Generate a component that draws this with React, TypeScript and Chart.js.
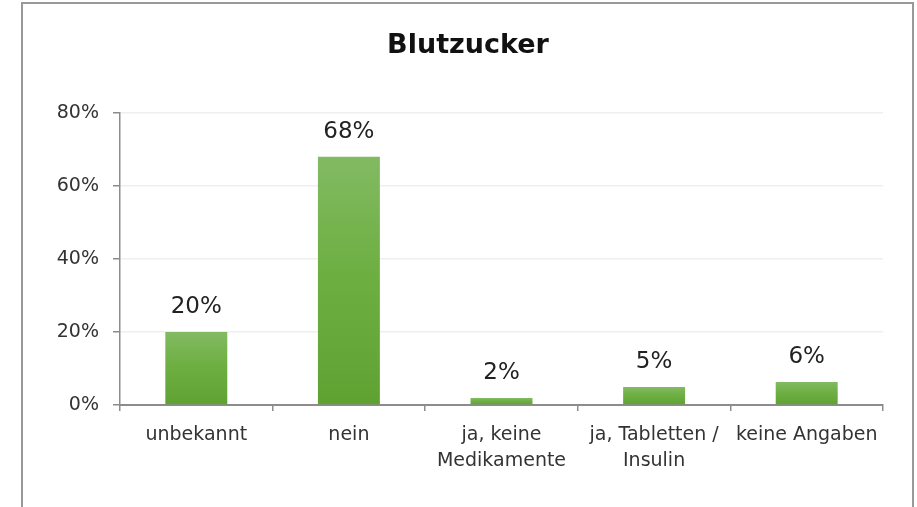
import React, { useEffect, useRef } from "react";
import { Chart, registerables } from "chart.js";

Chart.register(...registerables);

const title = "Blutzucker";
const categories: (string | string[])[] = [
  "unbekannt",
  "nein",
  ["ja, keine", "Medikamente"],
  ["ja, Tabletten /", "Insulin"],
  "keine Angaben",
];
const values = [20, 68, 1.9, 4.9, 6.3];
const yTicks = [0, 20, 40, 60, 80];

const FONT = "'DejaVu Sans', sans-serif";

export default function App() {
  const ref = useRef<HTMLCanvasElement | null>(null);

  useEffect(() => {
    document.body.style.margin = "0";
    const canvas = ref.current!;
    const labelPlugin = {
      id: "extras",
      afterDatasetsDraw(chart: any) {
        const ctx = chart.ctx;
        const meta = chart.getDatasetMeta(0);
        ctx.save();
        ctx.fillStyle = "#222222";
        ctx.font = `23px ${FONT}`;
        ctx.textAlign = "center";
        ctx.textBaseline = "alphabetic";
        meta.data.forEach((bar: any, i: number) => {
          ctx.fillText(Math.round(values[i]) + "%", bar.x, bar.y - 19);
        });
        ctx.font = `bold 27px ${FONT}`;
        ctx.fillStyle = "#111111";
        ctx.textBaseline = "alphabetic";
        ctx.fillText(title, 468, 53);
        ctx.restore();
      },
    };

    const chart = new Chart(canvas, {
      type: "bar",
      data: {
        labels: categories,
        datasets: [
          {
            data: values,
            barPercentage: 0.406,
            categoryPercentage: 1,
            backgroundColor: (c: any) => {
              const ch = c.chart;
              const area = ch.chartArea;
              if (!area || c.type !== "data") return "#6aa83f";
              const ys = ch.scales.y;
              const top = ys.getPixelForValue(values[c.dataIndex]);
              const bottom = ys.getPixelForValue(0);
              const g = ch.ctx.createLinearGradient(0, top, 0, bottom);
              g.addColorStop(0, "#82ba62");
              g.addColorStop(0.5, "#6cae40");
              g.addColorStop(1, "#60a232");
              return g;
            },
          },
        ],
      },
      options: {
        responsive: false,
        animation: false,
        layout: { padding: { top: 113, right: 34, left: 0, bottom: 0 } },
        plugins: {
          legend: { display: false },
          title: { display: false },
          tooltip: { enabled: false },
        },
        scales: {
          x: {
            afterFit: (s: any) => {
              s.height = 102;
            },
            border: { color: "#8c8c8c", width: 2 },
            grid: {
              offset: true,
              drawOnChartArea: false,
              drawTicks: true,
              tickLength: 6,
              tickColor: "#8c8c8c",
              lineWidth: 1.5,
            },
            ticks: {
              color: "#333333",
              font: { family: FONT, size: 19, lineHeight: 1.32 },
              padding: 12,
              maxRotation: 0,
              autoSkip: false,
            },
          },
          y: {
            min: 0,
            max: 80,
            afterFit: (s: any) => {
              s.width = 120;
            },
            afterBuildTicks: (s: any) => {
              s.ticks = yTicks.map((v) => ({ value: v }));
            },
            border: { color: "#8c8c8c", width: 1.5 },
            grid: {
              color: "#efefef",
              lineWidth: 1.5,
              tickLength: 7,
              tickColor: "#8c8c8c",
            },
            ticks: {
              color: "#333333",
              font: { family: FONT, size: 19 },
              padding: 14,
              callback: (v: any) => v + "%",
            },
          },
        },
      },
      plugins: [labelPlugin],
    });
    return () => chart.destroy();
  }, []);

  return (
    <div style={{ position: "relative", width: 917, height: 507, overflow: "hidden", background: "#fff" }}>
      <div
        style={{
          position: "absolute",
          left: 21,
          top: 2,
          width: 893,
          height: 600,
          border: "2px solid #999999",
          boxSizing: "border-box",
        }}
      />
      <canvas ref={ref} width={917} height={507} style={{ position: "absolute", left: 0, top: 0 }} />
    </div>
  );
}
